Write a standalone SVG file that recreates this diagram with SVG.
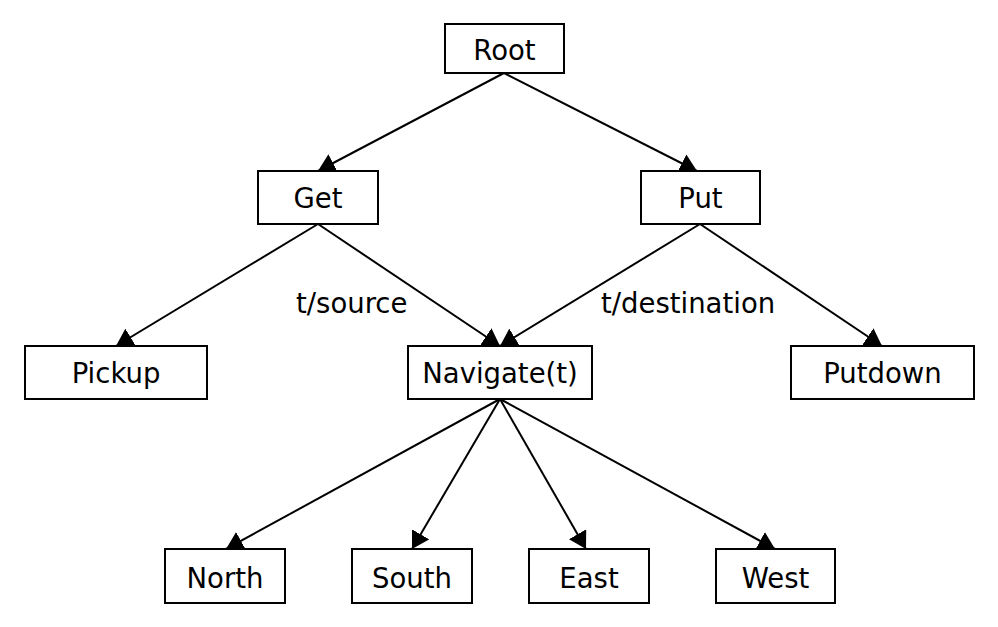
<svg xmlns="http://www.w3.org/2000/svg" width="998" height="627" viewBox="0 0 998 627">
<style>
.box{fill:#fff;stroke:#000;stroke-width:2}
.lbl{font-family:"DejaVu Sans",sans-serif;font-size:27.5px;fill:#000;text-anchor:middle}
.elbl{font-family:"DejaVu Sans",sans-serif;font-size:27.5px;fill:#000}
.edge{stroke:#000;stroke-width:2;fill:none;marker-end:url(#arr)}
</style>
<defs>
<marker id="arr" markerUnits="userSpaceOnUse" viewBox="0 -10 17 20" markerWidth="17" markerHeight="20" refX="17" refY="0" orient="auto">
<path d="M0,-10 L17,0 L0,10 z" fill="#000"/>
</marker>
</defs>
<rect width="998" height="627" fill="#fff"/>
<g id="connectors">
<line class="edge" x1="504" y1="73" x2="318" y2="171"/>
<line class="edge" x1="504" y1="73" x2="697" y2="171"/>
<line class="edge" x1="318" y1="224" x2="116" y2="346"/>
<line class="edge" x1="318" y1="224" x2="500" y2="346"/>
<line class="edge" x1="700" y1="224" x2="500" y2="346"/>
<line class="edge" x1="700" y1="224" x2="882" y2="346"/>
<line class="edge" x1="500" y1="399" x2="226" y2="549"/>
<line class="edge" x1="500" y1="399" x2="412" y2="549"/>
<line class="edge" x1="500" y1="399" x2="586" y2="549"/>
<line class="edge" x1="500" y1="399" x2="775" y2="549"/>
<text class="elbl" x="296" y="313">t/source</text>
<text class="elbl" x="601" y="313">t/destination</text>
</g>
<g id="root"><rect class="box" x="445" y="24" width="119" height="49"/><text class="lbl" x="504.5" y="60">Root</text></g>
<g id="get"><rect class="box" x="258" y="171" width="120" height="53"/><text class="lbl" x="318" y="208">Get</text></g>
<g id="put"><rect class="box" x="641" y="171" width="119" height="53"/><text class="lbl" x="700.5" y="208">Put</text></g>
<g id="pickup"><rect class="box" x="25" y="346" width="182" height="53"/><text class="lbl" x="116" y="383">Pickup</text></g>
<g id="navigate"><rect class="box" x="408" y="346" width="184" height="53"/><text class="lbl" x="500" y="383">Navigate(t)</text></g>
<g id="putdown"><rect class="box" x="791" y="346" width="183" height="53"/><text class="lbl" x="882.5" y="383">Putdown</text></g>
<g id="north"><rect class="box" x="165" y="549" width="120" height="54"/><text class="lbl" x="225" y="588">North</text></g>
<g id="south"><rect class="box" x="352" y="549" width="120" height="54"/><text class="lbl" x="412" y="588">South</text></g>
<g id="east"><rect class="box" x="529" y="549" width="120" height="54"/><text class="lbl" x="589" y="588">East</text></g>
<g id="west"><rect class="box" x="716" y="549" width="119" height="54"/><text class="lbl" x="775.5" y="588">West</text></g>
</svg>
